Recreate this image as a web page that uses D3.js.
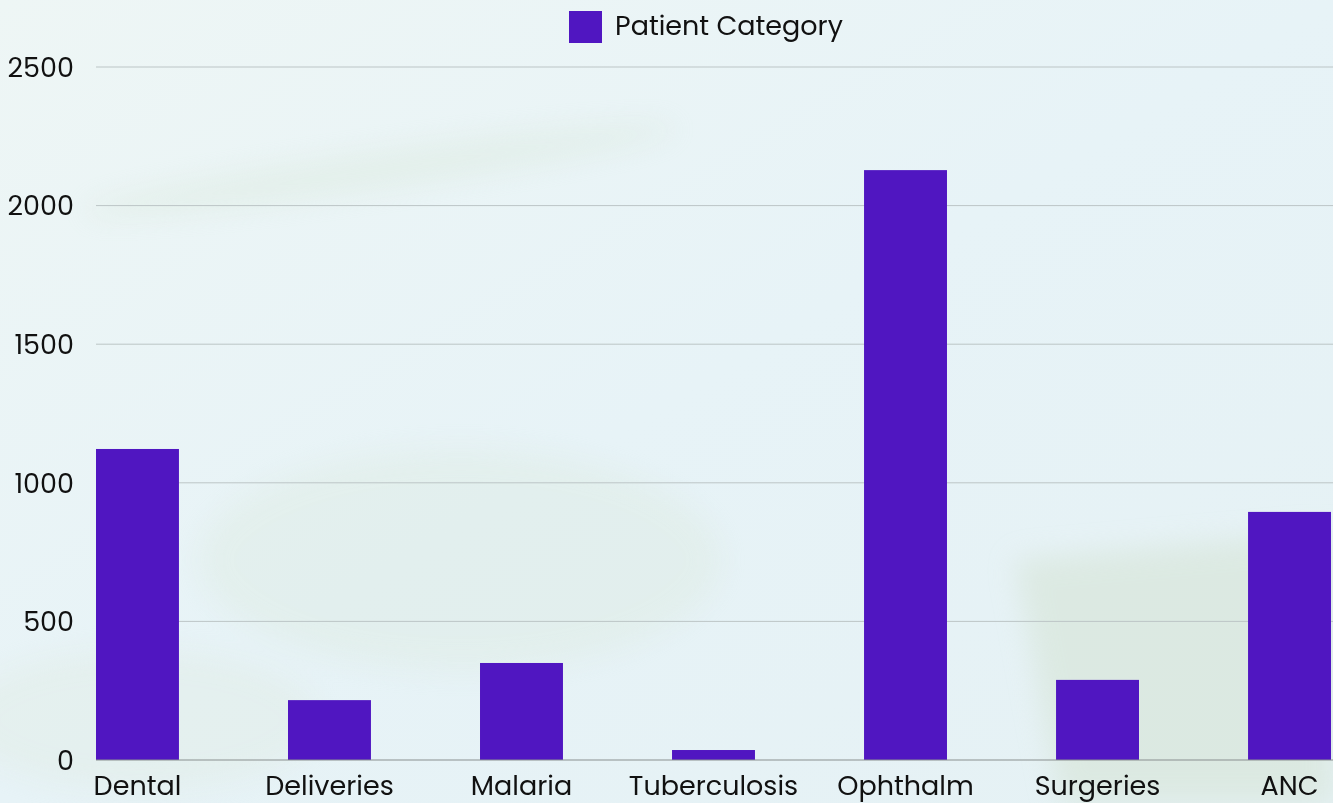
<!DOCTYPE html>
<html>
<head>
<meta charset="utf-8">
<script src="https://cdn.jsdelivr.net/npm/d3@7"></script>
<style>
  body { margin: 0; overflow: hidden; background: #e8f3f6; }
  svg { display: block; font-family: "Poppins", "Inter", "Lato", sans-serif; }
</style>
</head>
<body>
<svg width="1333" height="803"></svg>
<script>
const svg = d3.select("svg"),
      width = +svg.attr("width"),
      height = +svg.attr("height");

// data
const categories = ["Dental", "Deliveries", "Malaria", "Tuberculosis", "Ophthalm", "Surgeries", "ANC"];
const patients = [1122, 216, 350, 36, 2128, 289, 895];
const yTicks = [0, 500, 1000, 1500, 2000, 2500];
const seriesName = "Patient Category";

const margin = { top: 67, right: 2, bottom: 43, left: 96 };
const barColor = "#5016c1";

// soft painted background
const defs = svg.append("defs");
const bg = defs.append("linearGradient").attr("id", "bg")
    .attr("x1", "0").attr("y1", "0").attr("x2", "1").attr("y2", "1");
bg.append("stop").attr("offset", "0").attr("stop-color", "#eef6f5");
bg.append("stop").attr("offset", "0.5").attr("stop-color", "#e7f3f7");
bg.append("stop").attr("offset", "1").attr("stop-color", "#e5f1f4");
defs.append("filter").attr("id", "blur")
    .append("feGaussianBlur").attr("stdDeviation", 14);

svg.append("rect").attr("width", width).attr("height", height).attr("fill", "url(#bg)");

// a few faint washes of green, just for texture
const washes = svg.append("g").attr("filter", "url(#blur)").attr("opacity", 0.35);
washes.append("ellipse").attr("cx", 380).attr("cy", 170).attr("rx", 300).attr("ry", 18)
    .attr("fill", "#d6e6d6").attr("transform", "rotate(-8 380 170)");
washes.append("ellipse").attr("cx", 460).attr("cy", 560).attr("rx", 260).attr("ry", 110)
    .attr("fill", "#dbe9dc");
washes.append("ellipse").attr("cx", 140).attr("cy", 720).attr("rx", 180).attr("ry", 70)
    .attr("fill", "#dfeadf");
svg.append("path")
    .attr("d", "M1015,560 L1333,532 L1333,803 L1060,803 Z")
    .attr("fill", "#d6e4d6")
    .attr("opacity", 0.6)
    .attr("filter", "url(#blur)");

const x = d3.scaleBand()
    .domain(categories)
    .range([margin.left, width - margin.right])
    .paddingInner(0.568)
    .paddingOuter(0);

const y = d3.scaleLinear()
    .domain([0, 2500])
    .range([height - margin.bottom, margin.top]);

// gridlines
svg.append("g")
    .selectAll("line")
    .data(yTicks.filter(d => d > 0))
    .join("line")
    .attr("x1", margin.left)
    .attr("x2", width)
    .attr("y1", d => y(d))
    .attr("y2", d => y(d))
    .attr("stroke", "#bcc5c6")
    .attr("stroke-width", 1);

// y labels
svg.append("g")
    .selectAll("text")
    .data(yTicks)
    .join("text")
    .attr("x", 74)
    .attr("y", d => y(d))
    .attr("dy", "0.36em")
    .attr("text-anchor", "end")
    .attr("font-size", 27)
    .attr("fill", "#111")
    .text(d => d);

// bars
svg.append("g")
    .selectAll("rect")
    .data(categories)
    .join("rect")
    .attr("x", d => x(d))
    .attr("y", (d, i) => y(patients[i]))
    .attr("width", x.bandwidth())
    .attr("height", (d, i) => y(0) - y(patients[i]))
    .attr("fill", barColor);

// baseline
svg.append("line")
    .attr("x1", margin.left).attr("x2", width)
    .attr("y1", y(0)).attr("y2", y(0))
    .attr("stroke", "#8a8f90").attr("stroke-width", 1.2);

// x labels
svg.append("g")
    .selectAll("text")
    .data(categories)
    .join("text")
    .attr("x", d => x(d) + x.bandwidth() / 2)
    .attr("y", 795)
    .attr("text-anchor", "middle")
    .attr("font-size", 27)
    .attr("fill", "#111")
    .text(d => d);

// legend
const legend = svg.append("g");
legend.append("rect")
    .attr("x", 569).attr("y", 11)
    .attr("width", 33).attr("height", 32)
    .attr("fill", barColor);
legend.append("text")
    .attr("x", 615).attr("y", 35)
    .attr("font-size", 27)
    .attr("fill", "#111")
    .text(seriesName);
</script>
</body>
</html>
